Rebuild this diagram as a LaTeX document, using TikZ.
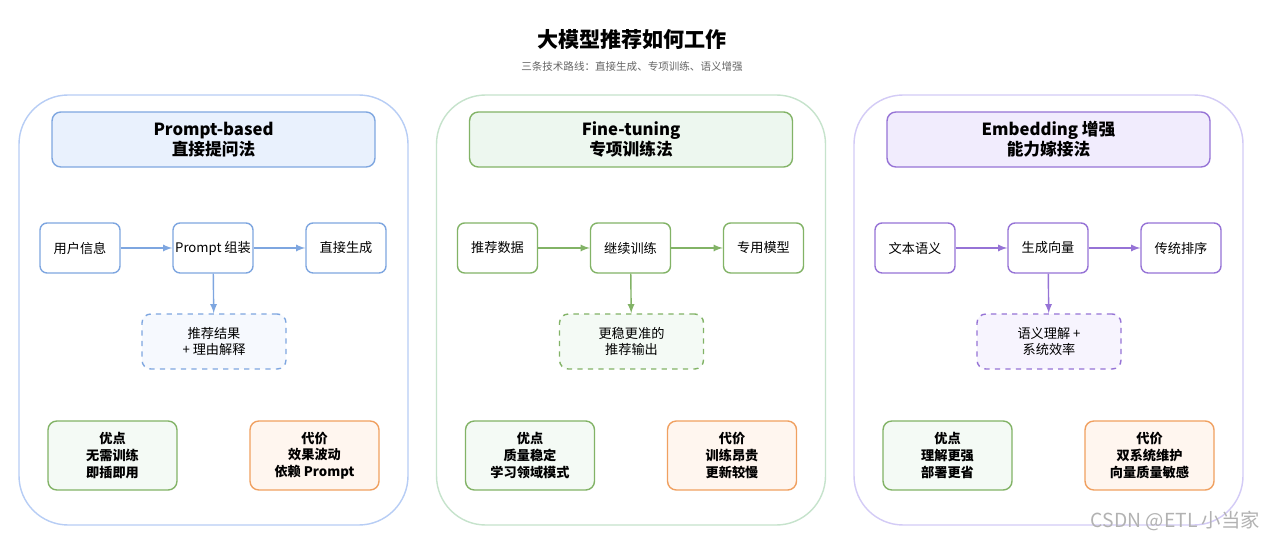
\documentclass[tikz,border=0pt]{standalone}
\usepackage{fontspec}
\setmainfont{Noto Sans CJK SC}
\usepackage{tikz}
\usetikzlibrary{positioning}
\definecolor{bpanel}{HTML}{B7CDF5}\definecolor{bdraw}{HTML}{7EA6E0}\definecolor{bfill}{HTML}{E9F1FD}\definecolor{blight}{HTML}{F6F9FE}
\definecolor{gpanel}{HTML}{C6E3CC}\definecolor{gdraw}{HTML}{82B366}\definecolor{gfill}{HTML}{EDF7EF}\definecolor{glight}{HTML}{F4FAF5}
\definecolor{ppanel}{HTML}{D3CBF6}\definecolor{pdraw}{HTML}{9673D6}\definecolor{pfill}{HTML}{F1ECFD}\definecolor{plight}{HTML}{F7F4FE}
\definecolor{odraw}{HTML}{F0A060}\definecolor{ofill}{HTML}{FFF6EF}
\tikzset{
  panel/.style={rounded corners=28pt,draw=#1panel,line width=0.8pt},
  head/.style={rounded corners=5pt,draw=#1draw,fill=#1fill,line width=0.8pt,inner sep=0pt,minimum width=6.46cm,minimum height=1.1cm,align=center,font=\fontsize{9.5}{11.5}\selectfont\bfseries},
  step/.style={rounded corners=4pt,draw=#1draw,fill=white,line width=0.8pt,inner sep=0pt,minimum width=1.6cm,minimum height=1.0cm,align=center,font=\fontsize{7.5}{9}\selectfont},
  res/.style={rounded corners=5pt,draw=#1draw,fill=#1light,dashed,line width=0.8pt,inner sep=0pt,minimum width=2.88cm,minimum height=1.1cm,align=center,font=\fontsize{7.5}{9}\selectfont},
  pro/.style={rounded corners=5pt,draw=gdraw,fill=glight,line width=0.8pt,inner sep=0pt,minimum width=2.58cm,minimum height=1.38cm,align=center,font=\fontsize{7.5}{9.5}\selectfont\bfseries},
  con/.style={pro,draw=odraw,fill=ofill},
  flow/.style={draw=#1draw,line width=0.8pt,-latex}
}
\begin{document}
\begin{tikzpicture}[x=0.02cm,y=-0.02cm]
\useasboundingbox[fill=white] (0,0) rectangle (1270,543);
\node[font=\fontsize{12}{14}\selectfont\bfseries] (title) at (632,40) {大模型推荐如何工作};
\node[font=\fontsize{6}{7}\selectfont,text=black!60] (sub) at (632,67) {三条技术路线：直接生成、专项训练、语义增强};
\foreach \dx/\c/\ha/\hb/\sa/\sb/\sc/\ra/\rb/\pa/\pb/\ca/\cb in {
  0/b/Prompt-based/直接提问法/用户信息/Prompt 组装/直接生成/推荐结果/+ 理由解释/无需训练/即插即用/效果波动/依赖 Prompt,
  417.5/g/Fine-tuning/专项训练法/推荐数据/继续训练/专用模型/更稳更准的/推荐输出/质量稳定/学习领域模式/训练昂贵/更新较慢,
  835/p/Embedding 增强/能力嫁接法/文本语义/生成向量/传统排序/语义理解 +/系统效率/理解更强/部署更省/双系统维护/向量质量敏感}{
  \begin{scope}[xshift=\dx*0.02cm]
    \draw[panel=\c] (19,95) rectangle (408,525);
    \node[head=\c] (h) at (213.5,139.5) {\ha\\\hb};
    \node[step=\c] (s1) at (80,248) {\sa};
    \node[step=\c] (s2) at (213,248) {\sb};
    \node[step=\c] (s3) at (346,248) {\sc};
    \node[res=\c] (r) at (214,341.5) {\ra\\\rb};
    \node[pro] (p) at (112.5,455.5) {优点\\\pa\\\pb};
    \node[con] (k) at (314.5,455.5) {代价\\\ca\\\cb};
    \draw[flow=\c] (s1) -- (s2);
    \draw[flow=\c] (s2) -- (s3);
    \draw[flow=\c] (s2) -- (r);
  \end{scope}}
\node[font=\fontsize{11}{13}\selectfont,text=black!30,anchor=east] (wm) at (1266,521) {CSDN @ETL 小当家};
\end{tikzpicture}
\end{document}
